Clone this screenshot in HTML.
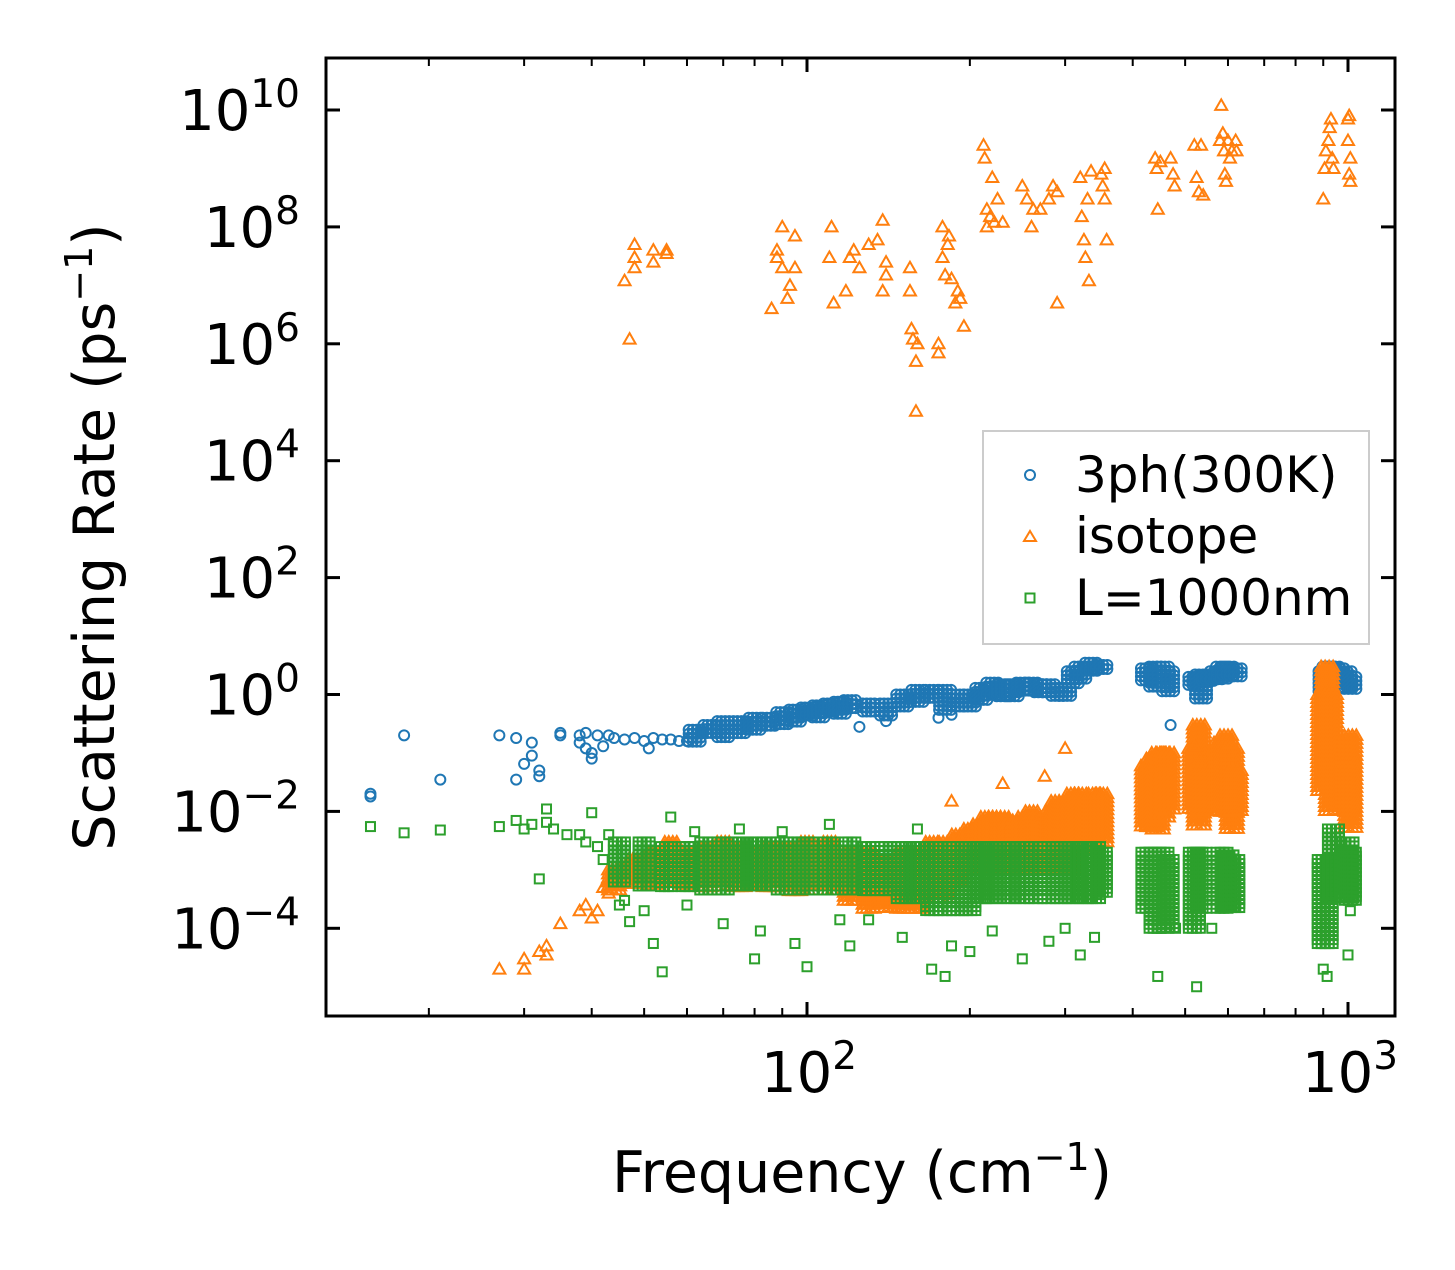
<!DOCTYPE html>
<html><head><meta charset="utf-8"><style>
body{margin:0;background:#fff;}
svg text{font-family:"DejaVu Sans","Liberation Sans",sans-serif;fill:#000;}
</style></head><body>
<svg id="chart" width="1455" height="1265" viewBox="0 0 1455 1265" xmlns="http://www.w3.org/2000/svg">
<rect x="0" y="0" width="1455" height="1265" fill="#fff"/>
<g id="marks"></g>
<rect x="326" y="58" width="1069" height="958" fill="none" stroke="#000" stroke-width="3"/>
<g id="ticks"></g>
<text x="862" y="1192" font-size="57" text-anchor="middle">Frequency (cm<tspan dy="-22" font-size="38">−1</tspan><tspan dy="22">)</tspan></text>
<text transform="translate(114,537) rotate(-90)" font-size="57" text-anchor="middle">Scattering Rate (ps<tspan dy="-22" font-size="38">−1</tspan><tspan dy="22">)</tspan></text>
<g>
<rect x="983" y="431" width="386" height="213" fill="#fff" fill-opacity="0.8" stroke="#ccc" stroke-width="2"/>
<circle cx="1030" cy="475" r="5" fill="none" stroke="#1f77b4" stroke-width="2"/>
<text x="1075" y="492" font-size="50">3ph(300K)</text>
<polygon points="1030,531 1036,541 1024,541" fill="none" stroke="#ff7f0e" stroke-width="2"/>
<text x="1075" y="553" font-size="50">isotope</text>
<rect x="1025.5" y="593.5" width="9" height="9" fill="none" stroke="#2ca02c" stroke-width="2"/>
<text x="1075" y="615" font-size="50">L=1000nm</text>
</g>
</svg>
<script>
// ---- data (frequency cm^-1, rate ps^-1) ----
const yTickExps=[10,8,6,4,2,0,-2,-4];
const xTickExps=[2,3];
const xMinorTicks=[20,30,40,50,60,70,80,90,200,300,400,500,600,700,800,900];
// 3ph: scattered points
const bluePts=[[15.6,0.018],[15.6,0.02],[18,0.2],[21,0.035],[27,0.2],[29,0.18],[29,0.035],[30,0.065],[31,0.09],[31,0.15],[32,0.05],[32,0.04],[35,0.2],[35,0.22],[38,0.15],[38,0.2],[39,0.12],[39,0.22],[40,0.08],[40,0.1],[41,0.2],[42,0.13],[43,0.2],[44,0.18],[46,0.17],[48,0.18],[50,0.16],[51,0.12],[52,0.18],[54,0.17],[56,0.17],[58,0.16],[60,0.16],[125,0.28],[140,0.35],[175,0.4],[185,0.45],[470,0.3]];
// 3ph dense band columns [freq, low, high]
const blueBand=[[62,0.15,0.25],[66,0.2,0.3],[70,0.18,0.35],[75,0.2,0.35],[80,0.22,0.4],[85,0.25,0.4],[90,0.3,0.5],[95,0.3,0.55],[100,0.4,0.6],[105,0.4,0.65],[110,0.45,0.7],[115,0.45,0.75],[120,0.5,0.8],[130,0.45,0.7],[140,0.4,0.7],[150,0.6,1.0],[160,0.7,1.2],[170,0.8,1.2],[180,0.5,1.2],[190,0.6,1.0],[200,0.6,1.0],[210,0.7,1.3],[220,0.9,1.6],[230,0.9,1.5],[240,0.9,1.5],[250,1.0,1.6],[260,1.0,1.6],[270,1.0,1.5],[280,1.0,1.5],[290,0.9,1.3],[300,0.9,1.3],[310,1.5,2.5],[320,1.8,3],[335,2.5,3.5],[350,2.5,3.2],[425,1.5,2.8],[440,1.2,3],[455,1.2,3],[465,1.0,2.5],[520,1.3,2],[535,0.8,2.2],[550,1.5,2],[570,1.8,2.5],[585,1.8,3],[600,2,3],[620,2,2.8],[905,1,2.5],[920,0.8,3],[940,1.5,3],[960,1.5,2.8],[990,1.2,2.5],[1010,1.2,2]];
// isotope: scattered points
const orangePts=[[46,1.2e7],[47,1.2e6],[48,3e7],[48,5e7],[48,2e7],[52,4e7],[52,2.5e7],[55,4e7],[55,3.5e7],[86,4e6],[88,3e7],[88,4e7],[90,2e7],[90,1e8],[92,6e6],[93,1e7],[95,2e7],[95,7e7],[110,3e7],[111,1e8],[112,5e6],[118,8e6],[120,3e7],[122,4e7],[125,2e7],[130,5e7],[135,6e7],[138,8e6],[138,1.3e8],[140,2.5e7],[140,1.5e7],[155,2e7],[155,8e6],[156,1.8e6],[157,1.2e6],[159,5e5],[159,7e4],[160,1e6],[175,7e5],[175,1e6],[178,3e7],[178,1e8],[180,1.5e7],[182,5e7],[183,7e7],[185,1.3e7],[188,5e6],[190,8e6],[192,6e6],[195,2e6],[212,2.5e9],[213,1.5e9],[215,2e8],[215,1e8],[218,1.5e8],[220,7e8],[222,1.2e8],[225,3e8],[230,1.2e8],[250,5e8],[255,3e8],[260,1e8],[262,2e8],[270,2e8],[280,3e8],[285,5e8],[290,5e6],[290,4e8],[320,7e8],[322,1.5e8],[325,6e7],[327,3e7],[330,3e8],[332,1.2e7],[335,9e8],[350,8e8],[352,5e8],[355,3e8],[358,6e7],[355,1e9],[440,1.5e9],[443,1e9],[445,2e8],[450,1.3e9],[470,1.5e9],[475,8e8],[478,5e8],[520,2.5e9],[525,7e8],[530,4e8],[535,2.5e9],[540,3.5e8],[580,3e9],[583,1.2e10],[587,4e9],[590,2e9],[592,8e8],[595,6e8],[600,3e9],[605,1.5e9],[610,2e9],[620,3e9],[622,2e9],[900,3e8],[905,1e9],[910,2e9],[920,3e9],[925,5e9],[930,7e9],[935,1.5e9],[940,1e9],[1000,7e9],[1005,8e9],[1010,1.5e9],[1000,3e9],[1005,8e8],[1010,6e8],
[27,2e-5],[30,2e-5],[30,3e-5],[32,4e-5],[33,5e-5],[33,3.5e-5],[35,1.2e-4],[38,2e-4],[39,2.5e-4],[40,1.5e-4],[41,2e-4],[42,5e-4],[43,4e-4],[300,0.12],[185,1.5e-2],[230,3e-2],[275,4e-2],[520,0.13]];
// isotope dense band columns [freq, low, high]
const orangeBand=[[44,4e-4,1e-3],[48,5e-4,1.5e-3],[52,5e-4,2e-3],[56,6e-4,3e-3],[60,5e-4,2e-3],[65,5e-4,2.5e-3],[70,5e-4,3e-3],[75,5e-4,2.5e-3],[80,5e-4,2e-3],[85,5e-4,2.5e-3],[90,5e-4,2.5e-3],[95,4e-4,2.5e-3],[100,4e-4,3e-3],[110,4e-4,3e-3],[120,3e-4,2e-3],[130,2e-4,2e-3],[140,2e-4,1.5e-3],[150,2e-4,2e-3],[160,2e-4,2e-3],[170,3e-4,3e-3],[180,3e-4,3e-3],[190,5e-4,4e-3],[200,1e-3,5e-3],[208,1e-3,6e-3],[215,1e-3,8e-3],[222,1e-3,8e-3],[230,1e-3,8e-3],[238,1e-3,7e-3],[245,1e-3,6e-3],[252,1e-3,8e-3],[260,1e-3,1e-2],[268,1e-3,8e-3],[275,1e-3,7e-3],[283,1e-3,1e-2],[290,1e-3,1.5e-2],[300,1e-3,1.5e-2],[310,1e-3,2e-2],[320,2e-3,2e-2],[330,2e-3,1.5e-2],[340,3e-3,2e-2],[350,3e-3,2e-2],[425,5e-3,0.06],[435,5e-3,0.08],[445,5e-3,0.1],[455,8e-3,0.1],[465,1e-2,0.1],[520,1e-2,0.12],[530,5e-3,0.3],[545,1e-2,0.08],[580,1e-2,0.15],[595,1e-2,0.2],[610,5e-3,0.12],[620,1e-2,0.05],[900,0.02,1],[915,0.05,3],[930,0.01,1],[1000,0.01,0.1],[1010,5e-3,0.2]];
// boundary L=1000nm: scattered points
const greenPts=[[15.6,5.5e-3],[18,4.3e-3],[21,4.8e-3],[27,5.5e-3],[29,7e-3],[30,5e-3],[31,6e-3],[32,7e-4],[33,1.1e-2],[33,6.5e-3],[34,5e-3],[36,4e-3],[38,4e-3],[39,3e-3],[40,9.5e-3],[41,2.5e-3],[42,1.5e-3],[43,4e-3],[45,2.5e-4],[46,3e-4],[47,1.3e-4],[50,2e-4],[52,5.5e-5],[54,1.8e-5],[56,8e-3],[60,2.5e-4],[62,4.5e-3],[70,1.2e-4],[75,5e-3],[80,3e-5],[82,9e-5],[90,4.5e-3],[95,5.5e-5],[100,2.2e-5],[110,6e-3],[115,1.4e-4],[120,5e-5],[130,1.4e-4],[150,7e-5],[160,5e-3],[170,2e-5],[180,1.5e-5],[185,5e-5],[200,4e-5],[220,9e-5],[250,3e-5],[280,6e-5],[300,1e-4],[320,3.5e-5],[340,7e-5],[445,1.5e-5],[480,1e-4],[525,1e-5],[560,1e-4],[900,2e-5],[915,1.5e-5],[1000,3.5e-5],[1010,2e-4]];
// boundary dense band columns [freq, low, high]
const greenBand=[[45,6e-4,3e-3],[50,5e-4,3e-3],[55,5e-4,2.5e-3],[60,5e-4,2.5e-3],[65,4e-4,3e-3],[70,4e-4,3e-3],[75,5e-4,3e-3],[80,5e-4,3e-3],[85,5e-4,3e-3],[90,4e-4,3e-3],[95,4e-4,3e-3],[100,4e-4,3e-3],[110,4e-4,3e-3],[120,4e-4,3e-3],[130,4e-4,2.5e-3],[140,4e-4,2.5e-3],[150,3e-4,2.5e-3],[160,3e-4,2.5e-3],[170,2e-4,2.5e-3],[180,2e-4,2.5e-3],[190,2e-4,2.5e-3],[200,2e-4,2.5e-3],[210,3e-4,2.5e-3],[220,3e-4,2.5e-3],[235,3e-4,2.5e-3],[250,3e-4,2.5e-3],[265,3e-4,2.5e-3],[280,3e-4,2.5e-3],[295,3e-4,2.5e-3],[310,3e-4,2.5e-3],[325,3e-4,2.5e-3],[340,3e-4,2.5e-3],[350,4e-4,2e-3],[425,2e-4,2e-3],[440,1e-4,2e-3],[455,1e-4,2e-3],[465,1e-4,1.5e-3],[520,1e-4,2e-3],[535,2e-4,2e-3],[585,2e-4,2e-3],[600,2e-4,1.8e-3],[615,2e-4,1.5e-3],[900,5e-5,1.5e-3],[915,5e-5,1.5e-3],[940,3e-4,5e-3],[1000,3e-4,3e-3],[1010,3e-4,2e-3]];

// ---- axes ----
const X0=807, DEC_X=541, Y10=110, DEC_Y=58.45;
function xs(f){return X0+DEC_X*(Math.log10(f)-2);}
function ys(v){return Y10+DEC_Y*(10-Math.log10(v));}
const NS="http://www.w3.org/2000/svg";
const marks=document.getElementById('marks');
const ticks=document.getElementById('ticks');
function mk(tag,attrs,parent){const e=document.createElementNS(NS,tag);for(const k in attrs)e.setAttribute(k,attrs[k]);parent.appendChild(e);return e;}
const colors={blue:'#1f77b4',orange:'#ff7f0e',green:'#2ca02c'};
function marker(kind,x,y,name){
  let e;
  if(kind==='blue'){e=mk('circle',{cx:x,cy:y,r:5,fill:'none',stroke:colors.blue,'stroke-width':2},marks);}
  else if(kind==='orange'){e=mk('polygon',{points:`${x},${y-6} ${x+6},${y+4.5} ${x-6},${y+4.5}`,fill:'none',stroke:colors.orange,'stroke-width':2},marks);}
  else {e=mk('rect',{x:x-4.5,y:y-4.5,width:9,height:9,fill:'none',stroke:colors.green,'stroke-width':2},marks);}
  
  
}
function drawBand(kind,band,name){
  band.forEach(([f,lo,hi])=>{
    const x=xs(f), y1=ys(hi), y2=ys(lo);
    for(let dx=-6;dx<=6;dx+=4){
      for(let y=y1;y<=y2;y+=4){marker(kind,x+dx,y,name);}
    }
  });
}
function drawPts(kind,pts,name){pts.forEach(([f,v])=>marker(kind,xs(f),ys(v),name));}
drawBand('blue',blueBand,'3ph-point');
drawPts('blue',bluePts,'3ph-point');
drawBand('orange',orangeBand,'isotope-point');
drawPts('orange',orangePts,'isotope-point');
drawBand('green',greenBand,'boundary-point');
drawPts('green',greenPts,'boundary-point');

const L=326,R=1395,T=58,B=1016;
yTickExps.forEach(p=>{
  const y=ys(Math.pow(10,p));
  let t=mk('line',{x1:L,x2:L+14,y1:y,y2:y,stroke:'#000','stroke-width':3},ticks);
  
  
  t=mk('line',{x1:R,x2:R-14,y1:y,y2:y,stroke:'#000','stroke-width':3},ticks);
  
  
  const tx=mk('text',{x:300,y:y+20,'font-size':56,'text-anchor':'end'},ticks);
  
  
  const s=String(p).replace('-','−');
  tx.innerHTML=`10<tspan dy="-23" font-size="39">${s}</tspan>`;
});
xTickExps.forEach(p=>{
  const x=xs(Math.pow(10,p));
  let t=mk('line',{x1:x,x2:x,y1:B,y2:B-14,stroke:'#000','stroke-width':3},ticks);
  
  
  t=mk('line',{x1:x,x2:x,y1:T,y2:T+14,stroke:'#000','stroke-width':3},ticks);
  
  
  const tx=mk('text',{x:x+2,y:1092,'font-size':56,'text-anchor':'middle'},ticks);
  
  
  tx.innerHTML=`10<tspan dy="-23" font-size="39">${p}</tspan>`;
});
xMinorTicks.forEach(f=>{
  const x=xs(f);
  let t=mk('line',{x1:x,x2:x,y1:B,y2:B-8,stroke:'#000','stroke-width':2},ticks);
  
  
  t=mk('line',{x1:x,x2:x,y1:T,y2:T+8,stroke:'#000','stroke-width':2},ticks);
  
  
});
</script>
</body></html>
